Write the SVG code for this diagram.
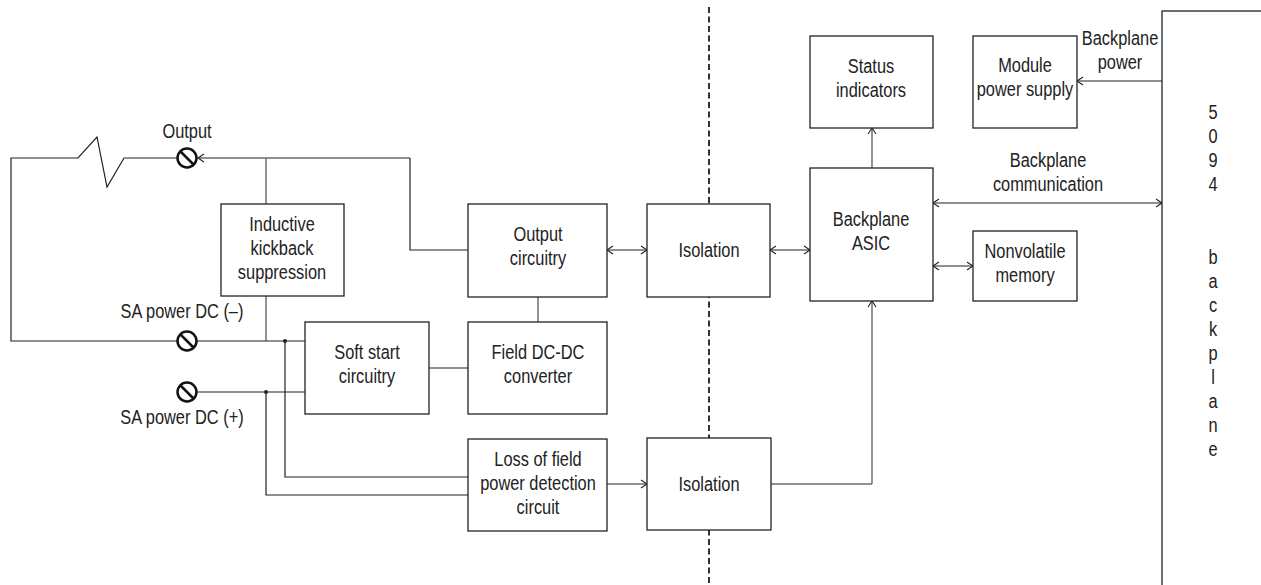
<svg xmlns="http://www.w3.org/2000/svg" width="1261" height="585" viewBox="0 0 1261 585">
<style>
.box{fill:#fff;stroke:#222;stroke-width:1.3}
.ln{fill:none;stroke:#222;stroke-width:1.2}
.gr{fill:none;stroke:#666;stroke-width:1.4}
.t{font-family:"Liberation Sans",Arial,sans-serif;font-size:21px;fill:#222;text-anchor:middle}
.term{fill:none;stroke:#111;stroke-width:2.5}
</style>
<defs>
<marker id="ah" markerWidth="8" markerHeight="10" refX="7" refY="5" orient="auto-start-reverse" markerUnits="userSpaceOnUse">
<path d="M1,1 L7,5 L1,9" fill="none" stroke="#222" stroke-width="1.1"/>
</marker>
</defs>
<rect width="1261" height="585" fill="#fff"/>
<line x1="709" y1="7" x2="709" y2="585" stroke="#333" stroke-width="2" stroke-dasharray="6 3.5"/>
<g id="connectors">
<path class="ln" d="M177,158 H124 L107,187 L97,137 L78,158 H11 V341 H177"/>
<path class="ln" d="M410,158 H198" marker-end="url(#ah)"/>
<path class="ln" d="M410,158 V250 H468"/>
<path class="gr" d="M266,158 V204"/>
<path class="gr" d="M266,296 V341"/>
<path class="ln" d="M197,341 H305"/>
<path class="ln" d="M197,392 H305"/>
<path class="ln" d="M285,341 V477 H468"/>
<path class="ln" d="M266,392 V495 H468"/>
<circle cx="285" cy="341" r="2" fill="#222"/>
<circle cx="266" cy="392" r="2" fill="#222"/>
<path class="ln" d="M429,368 H468"/>
<path class="gr" d="M538,297 V322"/>
<path class="ln" d="M607,250 H647" marker-start="url(#ah)" marker-end="url(#ah)"/>
<path class="ln" d="M770,250 H810" marker-start="url(#ah)" marker-end="url(#ah)"/>
<path class="ln" d="M607,484 H647" marker-end="url(#ah)"/>
<path class="ln" d="M771,484 H872"/>
<path class="gr" d="M872,484 V301" marker-end="url(#ah)"/>
<path class="gr" d="M872,168 V128" marker-end="url(#ah)"/>
<path class="ln" d="M1162,81 H1077" marker-end="url(#ah)"/>
<path class="ln" d="M933,203 H1162" marker-start="url(#ah)" marker-end="url(#ah)"/>
<path class="ln" d="M933,266 H973" marker-start="url(#ah)" marker-end="url(#ah)"/>
</g>
<g id="terminal-output">
<circle class="term" cx="187" cy="158" r="9.5"/>
<line class="term" x1="180.5" y1="151.5" x2="193.5" y2="164.5"/>
<text class="t" transform="translate(187 138) scale(0.78 1)">Output</text>
</g>
<g id="terminal-minus">
<circle class="term" cx="187" cy="341" r="9.5"/>
<line class="term" x1="180.5" y1="334.5" x2="193.5" y2="347.5"/>
<text class="t" transform="translate(182 318) scale(0.78 1)">SA power DC (–)</text>
</g>
<g id="terminal-plus">
<circle class="term" cx="187" cy="392" r="9.5"/>
<line class="term" x1="180.5" y1="385.5" x2="193.5" y2="398.5"/>
<text class="t" transform="translate(182 424) scale(0.78 1)">SA power DC (+)</text>
</g>
<g id="inductive">
<rect class="box" x="221" y="204" width="123" height="92"/>
<text class="t" transform="translate(282 231) scale(0.78 1)">Inductive</text>
<text class="t" transform="translate(282 255) scale(0.78 1)">kickback</text>
<text class="t" transform="translate(282 279) scale(0.78 1)">suppression</text>
</g>
<g id="output-circuitry">
<rect class="box" x="468" y="204" width="139" height="93"/>
<text class="t" transform="translate(538 241) scale(0.78 1)">Output</text>
<text class="t" transform="translate(538 265) scale(0.78 1)">circuitry</text>
</g>
<g id="isolation-top">
<rect class="box" x="647" y="204" width="123" height="93"/>
<text class="t" transform="translate(709 257) scale(0.78 1)">Isolation</text>
</g>
<g id="soft-start">
<rect class="box" x="305" y="322" width="124" height="92"/>
<text class="t" transform="translate(367 359) scale(0.78 1)">Soft start</text>
<text class="t" transform="translate(367 383) scale(0.78 1)">circuitry</text>
</g>
<g id="field-dcdc">
<rect class="box" x="468" y="322" width="139" height="92"/>
<text class="t" transform="translate(538 359) scale(0.78 1)">Field DC-DC</text>
<text class="t" transform="translate(538 383) scale(0.78 1)">converter</text>
</g>
<g id="loss-of-field">
<rect class="box" x="468" y="439" width="139" height="92"/>
<text class="t" transform="translate(538 466) scale(0.78 1)">Loss of field</text>
<text class="t" transform="translate(538 490) scale(0.78 1)">power detection</text>
<text class="t" transform="translate(538 514) scale(0.78 1)">circuit</text>
</g>
<g id="isolation-bottom">
<rect class="box" x="647" y="438" width="124" height="92"/>
<text class="t" transform="translate(709 491) scale(0.78 1)">Isolation</text>
</g>
<g id="backplane-asic">
<rect class="box" x="810" y="168" width="123" height="133"/>
<text class="t" transform="translate(871 226) scale(0.78 1)">Backplane</text>
<text class="t" transform="translate(871 250) scale(0.78 1)">ASIC</text>
</g>
<g id="status">
<rect class="box" x="810" y="36" width="123" height="92"/>
<text class="t" transform="translate(871 73) scale(0.78 1)">Status</text>
<text class="t" transform="translate(871 97) scale(0.78 1)">indicators</text>
</g>
<g id="module-power">
<rect class="box" x="973" y="36" width="104" height="92"/>
<text class="t" transform="translate(1025 72) scale(0.78 1)">Module</text>
<text class="t" transform="translate(1025 96) scale(0.78 1)">power supply</text>
</g>
<g id="nonvolatile">
<rect class="box" x="973" y="231" width="104" height="70"/>
<text class="t" transform="translate(1025 258) scale(0.78 1)">Nonvolatile</text>
<text class="t" transform="translate(1025 282) scale(0.78 1)">memory</text>
</g>
<g id="labels">
<text class="t" transform="translate(1120 45) scale(0.78 1)">Backplane</text>
<text class="t" transform="translate(1120 69) scale(0.78 1)">power</text>
<text class="t" transform="translate(1048 167) scale(0.78 1)">Backplane</text>
<text class="t" transform="translate(1048 191) scale(0.78 1)">communication</text>
</g>
<g id="backplane">
<rect class="box" x="1162" y="11" width="110" height="590"/>
<text class="t" transform="translate(1213 119) scale(0.78 1)">5</text>
<text class="t" transform="translate(1213 143) scale(0.78 1)">0</text>
<text class="t" transform="translate(1213 167) scale(0.78 1)">9</text>
<text class="t" transform="translate(1213 191) scale(0.78 1)">4</text>
<text class="t" transform="translate(1213 264) scale(0.78 1)">b</text>
<text class="t" transform="translate(1213 288) scale(0.78 1)">a</text>
<text class="t" transform="translate(1213 312) scale(0.78 1)">c</text>
<text class="t" transform="translate(1213 336) scale(0.78 1)">k</text>
<text class="t" transform="translate(1213 360) scale(0.78 1)">p</text>
<text class="t" transform="translate(1213 384) scale(0.78 1)">l</text>
<text class="t" transform="translate(1213 408) scale(0.78 1)">a</text>
<text class="t" transform="translate(1213 432) scale(0.78 1)">n</text>
<text class="t" transform="translate(1213 456) scale(0.78 1)">e</text>
</g>
</svg>
